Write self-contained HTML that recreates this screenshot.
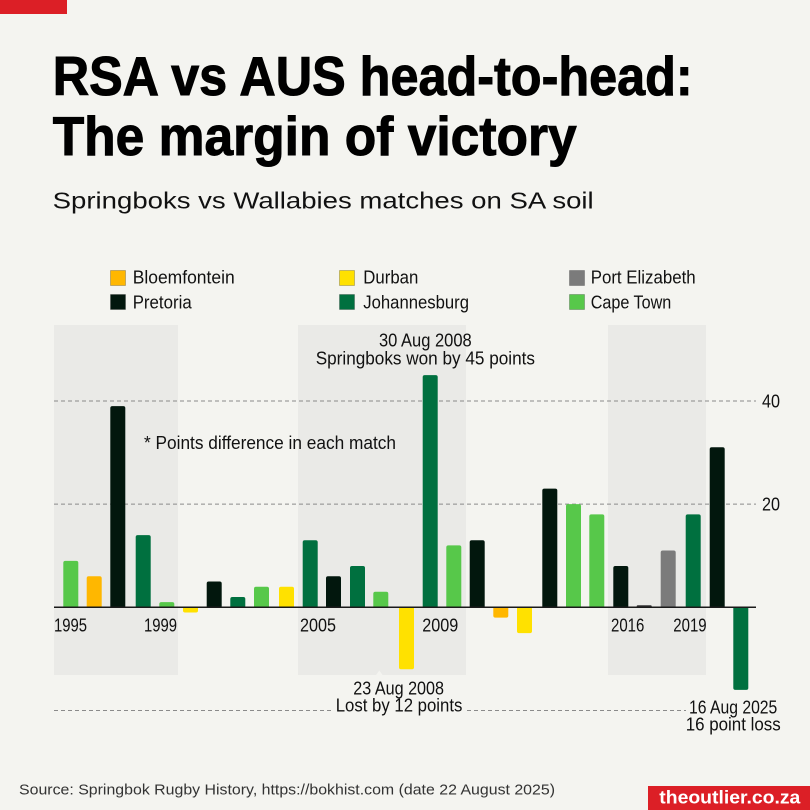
<!DOCTYPE html>
<html>
<head>
<meta charset="utf-8">
<style>
  html, body { margin: 0; padding: 0; background: #f4f4f0; }
  svg { display: block; }
  text { font-family: "Liberation Sans", "DejaVu Sans", sans-serif; }
</style>
</head>
<body>
<svg width="810" height="810" viewBox="0 0 810 810" xmlns="http://www.w3.org/2000/svg">
  <rect x="0" y="0" width="810" height="810" fill="#f4f4f0"/>
  <!-- top red tab -->
  <rect x="0" y="0" width="67" height="14" fill="#dc1f26"/>

  <!-- title -->
  <text x="52.7" y="95" font-size="55" font-weight="700" fill="#000" stroke="#000" stroke-width="1" textLength="640" lengthAdjust="spacingAndGlyphs">RSA vs AUS head-to-head:</text>
  <text x="52.7" y="155" font-size="55" font-weight="700" fill="#000" stroke="#000" stroke-width="1" textLength="524" lengthAdjust="spacingAndGlyphs">The margin of victory</text>
  <text x="52.7" y="208.3" font-size="23" fill="#111" textLength="541" lengthAdjust="spacingAndGlyphs">Springboks vs Wallabies matches on SA soil</text>

  <!-- legend -->
  <g stroke="rgba(0,0,0,0.22)" stroke-width="1">
    <rect x="110.5" y="270.5" width="15" height="15" fill="#ffb700"/>
    <rect x="110.5" y="294.5" width="15" height="15" fill="#02170d"/>
    <rect x="339.5" y="270.5" width="15" height="15" fill="#ffe100"/>
    <rect x="339.5" y="294.5" width="15" height="15" fill="#00703f"/>
    <rect x="569.5" y="270.5" width="15" height="15" fill="#7b7b7b"/>
    <rect x="569.5" y="294.5" width="15" height="15" fill="#57c84a"/>
  </g>
  <g font-size="18" fill="#111">
    <text x="132.7" y="283.7" textLength="102" lengthAdjust="spacingAndGlyphs">Bloemfontein</text>
    <text x="132.7" y="308.7" textLength="59" lengthAdjust="spacingAndGlyphs">Pretoria</text>
    <text x="363.3" y="283.7" textLength="55" lengthAdjust="spacingAndGlyphs">Durban</text>
    <text x="363.3" y="308.7" textLength="105.7" lengthAdjust="spacingAndGlyphs">Johannesburg</text>
    <text x="590.7" y="283.7" textLength="105" lengthAdjust="spacingAndGlyphs">Port Elizabeth</text>
    <text x="590.7" y="308.7" textLength="80.6" lengthAdjust="spacingAndGlyphs">Cape Town</text>
  </g>

  <!-- shaded bands -->
  <g fill="#eaeae7">
    <rect x="54" y="325" width="124" height="350"/>
    <rect x="298" y="325" width="168" height="350"/>
    <rect x="608" y="325" width="98" height="350"/>
  </g>

  <!-- gridlines -->
  <g stroke="#8a8a8a" stroke-width="1" stroke-dasharray="4 3">
    <line x1="54" y1="401" x2="756" y2="401"/>
    <line x1="54" y1="504.1" x2="756" y2="504.1"/>
    <line x1="54" y1="710.5" x2="756" y2="710.5"/>
  </g>

  <!-- bars -->
  <g>
    <path fill="#57c84a" d="M63.3,607.3V562.9Q63.3,560.9 65.3,560.9H76.3Q78.3,560.9 78.3,562.9V607.3Z"/>
    <path fill="#ffb700" d="M86.7,607.3V578.3Q86.7,576.3 88.7,576.3H99.7Q101.7,576.3 101.7,578.3V607.3Z"/>
    <path fill="#02170d" d="M110.3,607.3V408.1Q110.3,406.1 112.3,406.1H123.3Q125.3,406.1 125.3,408.1V607.3Z"/>
    <path fill="#00703f" d="M135.7,607.3V537.1Q135.7,535.1 137.7,535.1H148.7Q150.7,535.1 150.7,537.1V607.3Z"/>
    <path fill="#57c84a" d="M159.3,607.3V604.1Q159.3,602.1 161.3,602.1H172.3Q174.3,602.1 174.3,604.1V607.3Z"/>
    <path fill="#ffe100" d="M183,607.3V610.5Q183,612.5 185,612.5H196Q198,612.5 198,610.5V607.3Z"/>
    <path fill="#02170d" d="M206.7,607.3V583.5Q206.7,581.5 208.7,581.5H219.7Q221.7,581.5 221.7,583.5V607.3Z"/>
    <path fill="#00703f" d="M230.3,607.3V599Q230.3,597 232.3,597H243.3Q245.3,597 245.3,599V607.3Z"/>
    <path fill="#57c84a" d="M254,607.3V588.7Q254,586.7 256,586.7H267Q269,586.7 269,588.7V607.3Z"/>
    <path fill="#ffe100" d="M279,607.3V588.7Q279,586.7 281,586.7H292Q294,586.7 294,588.7V607.3Z"/>
    <path fill="#00703f" d="M302.7,607.3V542.2Q302.7,540.2 304.7,540.2H315.7Q317.7,540.2 317.7,542.2V607.3Z"/>
    <path fill="#02170d" d="M326,607.3V578.3Q326,576.3 328,576.3H339Q341,576.3 341,578.3V607.3Z"/>
    <path fill="#00703f" d="M350,607.3V568Q350,566 352,566H363Q365,566 365,568V607.3Z"/>
    <path fill="#57c84a" d="M373.3,607.3V593.8Q373.3,591.8 375.3,591.8H386.3Q388.3,591.8 388.3,593.8V607.3Z"/>
    <path fill="#ffe100" d="M399,607.3V667.2Q399,669.2 401,669.2H412Q414,669.2 414,667.2V607.3Z"/>
    <path fill="#00703f" d="M422.7,607.3V377.1Q422.7,375.1 424.7,375.1H435.7Q437.7,375.1 437.7,377.1V607.3Z"/>
    <path fill="#57c84a" d="M446.3,607.3V547.4Q446.3,545.4 448.3,545.4H459.3Q461.3,545.4 461.3,547.4V607.3Z"/>
    <path fill="#02170d" d="M469.7,607.3V542.2Q469.7,540.2 471.7,540.2H482.7Q484.7,540.2 484.7,542.2V607.3Z"/>
    <path fill="#ffb700" d="M493.3,607.3V615.6Q493.3,617.6 495.3,617.6H506.3Q508.3,617.6 508.3,615.6V607.3Z"/>
    <path fill="#ffe100" d="M517,607.3V631.1Q517,633.1 519,633.1H530Q532,633.1 532,631.1V607.3Z"/>
    <path fill="#02170d" d="M542.3,607.3V490.6Q542.3,488.6 544.3,488.6H555.3Q557.3,488.6 557.3,490.6V607.3Z"/>
    <path fill="#57c84a" d="M566,607.3V506.1Q566,504.1 568,504.1H579Q581,504.1 581,506.1V607.3Z"/>
    <path fill="#57c84a" d="M589.3,607.3V516.4Q589.3,514.4 591.3,514.4H602.3Q604.3,514.4 604.3,516.4V607.3Z"/>
    <path fill="#02170d" d="M613.3,607.3V568Q613.3,566 615.3,566H626.3Q628.3,566 628.3,568V607.3Z"/>
    <rect x="636.7" y="605.3" width="15" height="2" rx="1" fill="#333"/>
    <path fill="#7b7b7b" d="M660.7,607.3V552.5Q660.7,550.5 662.7,550.5H673.7Q675.7,550.5 675.7,552.5V607.3Z"/>
    <path fill="#00703f" d="M685.7,607.3V516.4Q685.7,514.4 687.7,514.4H698.7Q700.7,514.4 700.7,516.4V607.3Z"/>
    <path fill="#02170d" d="M709.7,607.3V449.3Q709.7,447.3 711.7,447.3H722.7Q724.7,447.3 724.7,449.3V607.3Z"/>
    <path fill="#00703f" d="M733.3,607.3V687.9Q733.3,689.9 735.3,689.9H746.3Q748.3,689.9 748.3,687.9V607.3Z"/>
  </g>

  <!-- zero line -->
  <line x1="54" y1="607.3" x2="756" y2="607.3" stroke="#1a1a1a" stroke-width="1.5"/>

  <!-- y axis labels -->
  <g font-size="18" fill="#111">
    <text x="762" y="407.3" textLength="18" lengthAdjust="spacingAndGlyphs">40</text>
    <text x="762" y="510.7" textLength="18" lengthAdjust="spacingAndGlyphs">20</text>
  </g>

  <!-- x axis year labels -->
  <g font-size="18" fill="#111">
    <text x="54" y="631.3" textLength="33" lengthAdjust="spacingAndGlyphs">1995</text>
    <text x="144" y="631.3" textLength="33" lengthAdjust="spacingAndGlyphs">1999</text>
    <text x="300" y="631.3" textLength="36" lengthAdjust="spacingAndGlyphs">2005</text>
    <text x="422.3" y="631.3" textLength="36" lengthAdjust="spacingAndGlyphs">2009</text>
    <text x="611" y="631.3" textLength="33.3" lengthAdjust="spacingAndGlyphs">2016</text>
    <text x="673.3" y="631.3" textLength="33.3" lengthAdjust="spacingAndGlyphs">2019</text>
  </g>

  <!-- annotations -->
  <g font-size="18" fill="#111">
    <text x="144" y="449" textLength="252" lengthAdjust="spacingAndGlyphs">* Points difference in each match</text>
    <text x="379" y="346.3" textLength="92.7" lengthAdjust="spacingAndGlyphs">30 Aug 2008</text>
    <text x="315.7" y="364.3" textLength="219.3" lengthAdjust="spacingAndGlyphs">Springboks won by 45 points</text>
  </g>
  <rect x="334" y="698" width="131" height="18" fill="#f4f4f0"/>
  <rect x="686" y="699" width="95" height="17" fill="#f4f4f0"/>
  <path d="M376,675 L379.3,670.5 L382.6,675 Z" fill="#f4f4f0"/>
  <g font-size="18" fill="#111">
    <text x="353.3" y="694.3" textLength="90.7" lengthAdjust="spacingAndGlyphs">23 Aug 2008</text>
    <text x="335.7" y="711.7" textLength="126.7" lengthAdjust="spacingAndGlyphs">Lost by 12 points</text>
    <text x="689" y="713.3" textLength="88.3" lengthAdjust="spacingAndGlyphs">16 Aug 2025</text>
    <text x="685.7" y="730.7" textLength="95" lengthAdjust="spacingAndGlyphs">16 point loss</text>
  </g>

  <!-- footer -->
  <text x="19" y="794.3" font-size="15" fill="#333" textLength="536" lengthAdjust="spacingAndGlyphs">Source: Springbok Rugby History, https://bokhist.com (date 22 August 2025)</text>
  <rect x="648" y="786" width="162" height="24" fill="#dc1f26"/>
  <text x="659.3" y="803.7" font-size="18" font-weight="700" fill="#ffffff" textLength="141" lengthAdjust="spacingAndGlyphs">theoutlier.co.za</text>
</svg>
</body>
</html>
